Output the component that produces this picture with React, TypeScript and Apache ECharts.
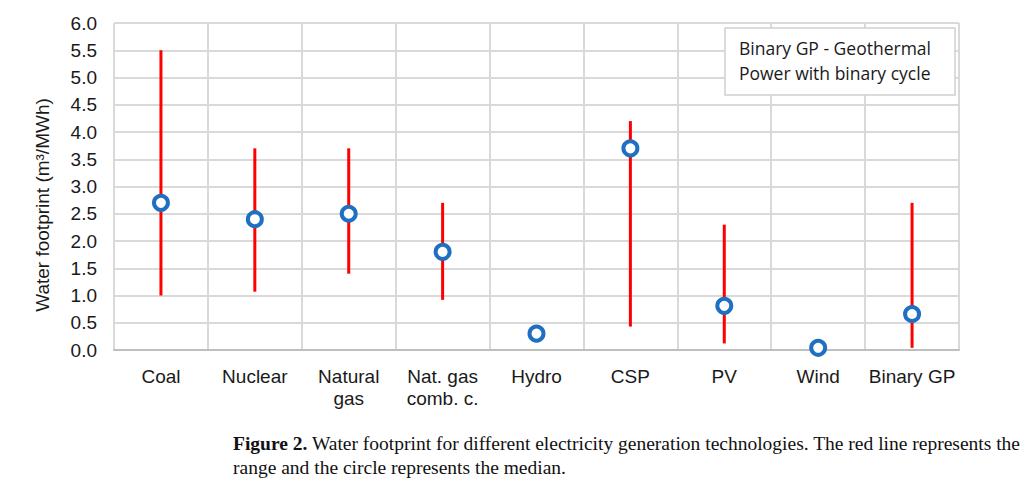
import React, { useEffect, useRef } from 'react';
import * as echarts from 'echarts';

const categories = ['Coal', 'Nuclear', 'Natural\ngas', 'Nat. gas\ncomb. c.', 'Hydro', 'CSP', 'PV', 'Wind', 'Binary GP'];
// min / max of range (null = no range drawn)
const rangeLow = [1.0, 1.07, 1.4, 0.92, null, 0.43, 0.12, null, 0.04];
const rangeHigh = [5.5, 3.7, 3.7, 2.7, null, 4.2, 2.3, null, 2.7];
const medians = [2.7, 2.4, 2.5, 1.8, 0.3, 3.7, 0.81, 0.04, 0.66];

const sans = 'Liberation Sans, Arial, sans-serif';

const App: React.FC = () => {
  const chartRef = useRef<HTMLDivElement>(null);

  useEffect(() => {
    document.body.style.margin = '0';
    if (!chartRef.current) return;
    const chart = echarts.init(chartRef.current, undefined, { renderer: 'svg' });

    const rangeData = categories
      .map((_, i) => [i, rangeLow[i], rangeHigh[i]])
      .filter((d) => d[1] !== null);

    chart.setOption({
      animation: false,
      backgroundColor: '#fff',
      grid: { left: 114, right: 75, top: 23, bottom: 137 },
      xAxis: {
        type: 'category',
        data: categories,
        boundaryGap: true,
        axisLine: { lineStyle: { color: '#bfbfbf', width: 2 } },
        axisTick: { show: false },
        splitLine: { show: true, lineStyle: { color: '#d9d9d9', width: 2 } },
        axisLabel: {
          color: '#1a1a1a',
          fontFamily: sans,
          fontSize: 19,
          margin: 15,
          lineHeight: 22,
          interval: 0,
        },
      },
      yAxis: {
        type: 'value',
        min: 0,
        max: 6,
        interval: 0.5,
        axisLine: { show: false },
        axisTick: { show: false },
        splitLine: { show: true, lineStyle: { color: '#d9d9d9', width: 2 } },
        axisLabel: {
          color: '#1a1a1a',
          fontFamily: sans,
          fontSize: 19,
          margin: 17,
          formatter: (v: number) => v.toFixed(1),
        },
      },
      series: [
        {
          type: 'custom',
          data: rangeData,
          renderItem: (params: any, api: any) => {
            const top = api.coord([api.value(0), api.value(2)]);
            const bottom = api.coord([api.value(0), api.value(1)]);
            return {
              type: 'line',
              shape: { x1: top[0], y1: top[1], x2: bottom[0], y2: bottom[1] },
              style: { stroke: '#ff0000', lineWidth: 3 },
            };
          },
          z: 2,
        },
        {
          type: 'scatter',
          data: medians,
          symbol: 'circle',
          symbolSize: 14,
          itemStyle: { color: '#ffffff', borderColor: '#1f70c1', borderWidth: 4, opacity: 1 },
          z: 3,
        },
      ],
      graphic: [
        {
          type: 'text',
          x: 42,
          y: 205,
          rotation: Math.PI / 2,
          style: {
            text: 'Water footprint (m³/MWh)',
            fill: '#1a1a1a',
            font: '19px "Liberation Sans", Arial, sans-serif',
            align: 'center',
            verticalAlign: 'middle',
          },
        },
        {
          type: 'group',
          x: 725,
          y: 28,
          z: 100,
          children: [
            {
              type: 'rect',
              z: 100,
              shape: { x: 0, y: 0, width: 230, height: 67 },
              style: { fill: '#ffffff', stroke: '#d0d0d0', lineWidth: 1.5 },
            },
            {
              type: 'text',
              z: 101,
              x: 14,
              y: 20,
              style: {
                text: 'Binary GP - Geothermal',
                fill: '#1a1a1a',
                font: '17.5px "Open Sans", sans-serif',
                verticalAlign: 'middle',
              },
            },
            {
              type: 'text',
              z: 101,
              x: 14,
              y: 45,
              style: {
                text: 'Power with binary cycle',
                fill: '#1a1a1a',
                font: '17.5px "Open Sans", sans-serif',
                verticalAlign: 'middle',
              },
            },
          ],
        },
        {
          type: 'text',
          x: 233,
          y: 431,
          style: {
            rich: {
              b: { fontFamily: 'Liberation Serif, serif', fontSize: 19.5, fontWeight: 'bold', fill: '#111', lineHeight: 24 },
              n: { fontFamily: 'Liberation Serif, serif', fontSize: 19.5, fill: '#111', lineHeight: 24 },
            },
            text:
              '{b|Figure 2.}{n| Water footprint for different electricity generation technologies. The red line represents the}\n{n|range and the circle represents the median.}',
          },
        },
      ],
    });

    return () => chart.dispose();
  }, []);

  return <div ref={chartRef} style={{ width: 1034, height: 487 }}></div>;
};

export default App;
